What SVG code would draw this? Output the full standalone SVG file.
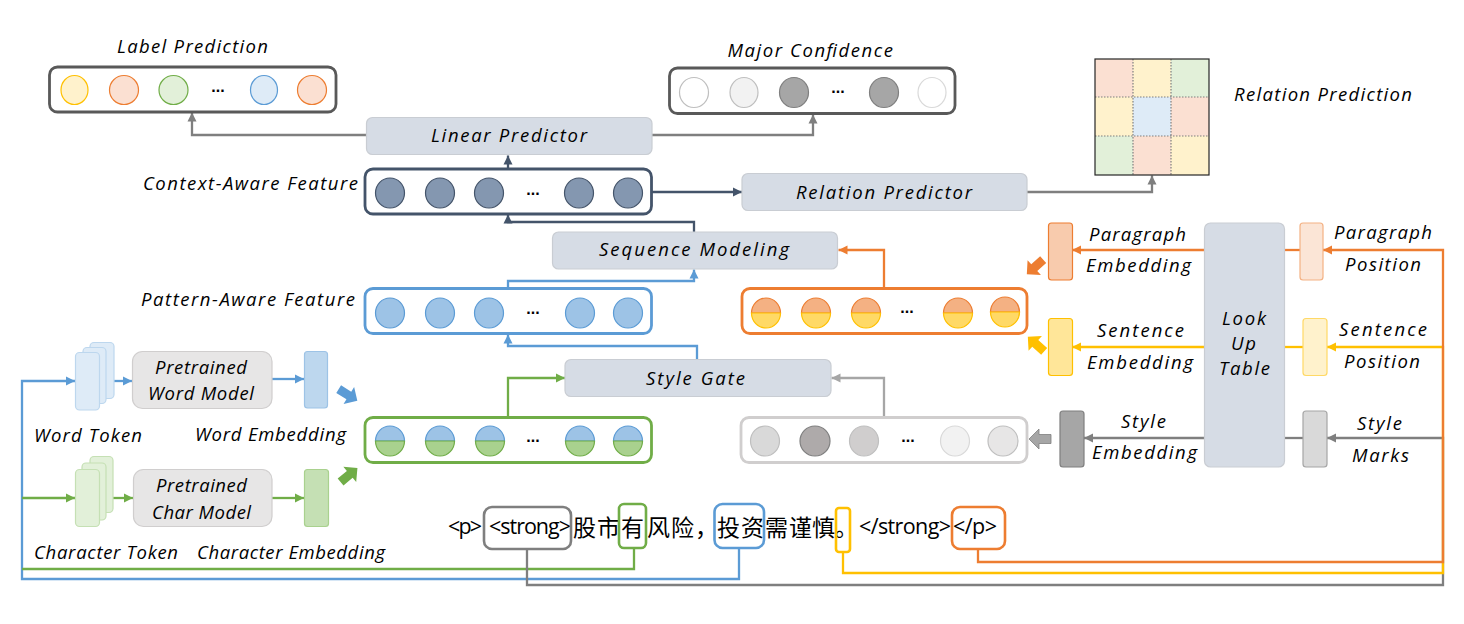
<svg xmlns="http://www.w3.org/2000/svg" width="1464" height="624" viewBox="0 0 1464 624">
<style>
text{font-family:"Open Sans","Noto Sans",sans-serif;fill:#000}
.l{font-size:18.5px;font-style:italic}
.t{font-size:21.5px}
.z{font-family:"Noto Sans CJK SC",sans-serif;font-size:23px}
.d{font-family:"Liberation Sans",sans-serif;font-size:16px;font-weight:bold;text-anchor:middle}
.box{fill:#fff;stroke-width:2.8}
.p{fill:#D6DCE5;stroke:#C9CDD3;stroke-width:1.2}
.m{fill:#E7E6E6;stroke:#D0CECE;stroke-width:1.2}
.c{fill:none;stroke-width:2.3}
.tb{fill:none;stroke-width:2.6}
.g1{stroke:#7F7F7F}.nv{stroke:#44546A}.bl{stroke:#5B9BD5}.gr{stroke:#70AD47}.or{stroke:#ED7D31}.ye{stroke:#FFC000}.lg{stroke:#A6A6A6}
</style>
<defs>
<marker id="a7" markerUnits="userSpaceOnUse" markerWidth="10" markerHeight="10" refX="9" refY="5" orient="auto"><path d="M0,.5L9,5L0,9.500Z" fill="#7F7F7F"/></marker>
<marker id="an" markerUnits="userSpaceOnUse" markerWidth="10" markerHeight="10" refX="9" refY="5" orient="auto"><path d="M0,.5L9,5L0,9.500Z" fill="#44546A"/></marker>
<marker id="ab" markerUnits="userSpaceOnUse" markerWidth="10" markerHeight="10" refX="9" refY="5" orient="auto"><path d="M0,.5L9,5L0,9.500Z" fill="#5B9BD5"/></marker>
<marker id="ag" markerUnits="userSpaceOnUse" markerWidth="10" markerHeight="10" refX="9" refY="5" orient="auto"><path d="M0,.5L9,5L0,9.500Z" fill="#70AD47"/></marker>
<marker id="ao" markerUnits="userSpaceOnUse" markerWidth="10" markerHeight="10" refX="9" refY="5" orient="auto"><path d="M0,.5L9,5L0,9.500Z" fill="#ED7D31"/></marker>
<marker id="ay" markerUnits="userSpaceOnUse" markerWidth="10" markerHeight="10" refX="9" refY="5" orient="auto"><path d="M0,.5L9,5L0,9.500Z" fill="#FFC000"/></marker>
<marker id="al" markerUnits="userSpaceOnUse" markerWidth="10" markerHeight="10" refX="9" refY="5" orient="auto"><path d="M0,.5L9,5L0,9.500Z" fill="#A6A6A6"/></marker>
<path id="big" d="M-11,-4.500H1V-10L11,0L1,10V4.500H-11Z"/>
<g id="bgc"><path d="M-14.500,0A14.500,15 0 0 1 14.500,0Z" fill="#9DC3E6" stroke="#5B9BD5" stroke-width="1.200"/><path d="M-14.500,0A14.500,15 0 0 0 14.500,0Z" fill="#A9D18E" stroke="#70AD47" stroke-width="1.200"/></g>
<g id="oyc"><path d="M-14.500,0A14.500,15 0 0 1 14.500,0Z" fill="#F4B183" stroke="#ED7D31" stroke-width="1.200"/><path d="M-14.500,0A14.500,15 0 0 0 14.500,0Z" fill="#FFD966" stroke="#FFC000" stroke-width="1.200"/></g>
<ellipse id="blc" rx="14.500" ry="15" fill="#9DC3E6" stroke="#5B9BD5" stroke-width="1.200"/>
<ellipse id="nvc" rx="14.500" ry="15" fill="#8497B0" stroke="#44546A" stroke-width="1.200"/>
</defs>
<rect width="1464" height="624" fill="#fff"/>

<g id="connectors">
<path class="c g1" d="M366,135H192V112.500" marker-end="url(#a7)"/>
<path class="c g1" d="M652,135H813V114.500" marker-end="url(#a7)"/>
<path class="c nv" d="M508,168V155.500" marker-end="url(#an)"/>
<path class="c nv" d="M652,192H742" marker-end="url(#an)"/>
<path class="c g1" d="M1027,192H1152V175.500" marker-end="url(#a7)"/>
<path class="c nv" d="M694,232V222H508V214.500" marker-end="url(#an)"/>
<path class="c bl" d="M508,288V281H694V269.500" marker-end="url(#ab)"/>
<path class="c or" d="M884,288V250H838.500" marker-end="url(#ao)"/>
<path class="c bl" d="M697,359V346H508V334.500" marker-end="url(#ab)"/>
<path class="c gr" d="M508,417V378H565" marker-end="url(#ag)"/>
<path class="c lg" d="M884,417V378H831.500" marker-end="url(#al)"/>
<path class="c bl" d="M739,549V579H22V381H75" marker-end="url(#ab)"/>
<path class="c gr" d="M634,549V569H22"/>
<path class="c gr" d="M22,498H75" marker-end="url(#ag)"/>
<path class="c bl" d="M114,381H132" marker-end="url(#ab)"/>
<path class="c bl" d="M272,379H304" marker-end="url(#ab)"/>
<path class="c gr" d="M113,498H133" marker-end="url(#ag)"/>
<path class="c gr" d="M272,498H304" marker-end="url(#ag)"/>
<path class="c g1" d="M527,549V585H1443V438H1327" marker-end="url(#a7)"/>
<path class="c ye" d="M843,552V573H1443V347H1327" marker-end="url(#ay)"/>
<path class="c or" d="M978,549V562H1443V250H1323" marker-end="url(#ao)"/>
<path class="c or" d="M1284,250H1300"/>
<path class="c ye" d="M1284,347H1303"/>
<path class="c g1" d="M1284,438H1303"/>
<path class="c or" d="M1204,250H1072" marker-end="url(#ao)"/>
<path class="c ye" d="M1204,347H1072" marker-end="url(#ay)"/>
<path class="c g1" d="M1204,438H1084" marker-end="url(#a7)"/>
<use href="#big" transform="translate(348,395) rotate(32)" fill="#5B9BD5"/>
<use href="#big" transform="translate(349,475) rotate(-40)" fill="#70AD47"/>
<use href="#big" transform="translate(1035,267) rotate(138)" fill="#ED7D31"/>
<use href="#big" transform="translate(1036,344) rotate(-138)" fill="#FFC000"/>
<use href="#big" transform="translate(1040,439) rotate(180)" fill="#A6A6A6" stroke="#7F7F7F" stroke-width=".8"/>
</g>

<g id="label-prediction">
<text class="l" x="117" y="53" textLength="151">Label Prediction</text>
<rect class="box" x="49.500" y="67" width="286.500" height="45" rx="8" stroke="#595959"/>
<ellipse cx="74.500" cy="90" rx="13.500" ry="14.500" fill="#FFF2CC" stroke="#FFC000" stroke-width="1.200"/>
<ellipse cx="124" cy="90" rx="14.500" ry="14.500" fill="#FBE0D2" stroke="#ED7D31" stroke-width="1.200"/>
<ellipse cx="173.500" cy="90" rx="14.500" ry="14.500" fill="#E2F0D9" stroke="#70AD47" stroke-width="1.200"/>
<text class="d" x="218" y="92">...</text>
<ellipse cx="264" cy="90" rx="13.500" ry="14.500" fill="#DEEBF7" stroke="#5B9BD5" stroke-width="1.200"/>
<ellipse cx="312" cy="90" rx="14.500" ry="14.500" fill="#FBE0D2" stroke="#ED7D31" stroke-width="1.200"/>
</g>

<g id="major-confidence">
<text class="l" x="727.500" y="57" textLength="165.500">Major Confidence</text>
<rect class="box" x="669.500" y="68" width="285.500" height="45.500" rx="8" stroke="#595959"/>
<ellipse cx="694" cy="92.500" rx="14.500" ry="15" fill="#fff" stroke="#BFBFBF" stroke-width="1.200"/>
<ellipse cx="744" cy="92.500" rx="14" ry="15" fill="#F2F2F2" stroke="#BFBFBF" stroke-width="1.200"/>
<ellipse cx="794" cy="92.500" rx="14.500" ry="15" fill="#A6A6A6" stroke="#7F7F7F" stroke-width="1.200"/>
<text class="d" x="838" y="93">...</text>
<ellipse cx="884" cy="92.500" rx="14.500" ry="15" fill="#A6A6A6" stroke="#7F7F7F" stroke-width="1.200"/>
<ellipse cx="932" cy="92.500" rx="14" ry="15" fill="#fff" stroke="#D9D9D9" stroke-width="1.200"/>
</g>

<g id="relation-prediction">
<rect x="1095" y="59" width="38" height="38" fill="#FBE0D2"/><rect x="1133" y="59" width="38" height="38" fill="#FFF2CC"/><rect x="1171" y="59" width="38" height="38" fill="#E2F0D9"/>
<rect x="1095" y="97" width="38" height="39" fill="#FFF2CC"/><rect x="1133" y="97" width="38" height="39" fill="#DEEBF7"/><rect x="1171" y="97" width="38" height="39" fill="#FBE0D2"/>
<rect x="1095" y="136" width="38" height="39" fill="#E2F0D9"/><rect x="1133" y="136" width="38" height="39" fill="#FBE0D2"/><rect x="1171" y="136" width="38" height="39" fill="#FFF2CC"/>
<path d="M1133,59V175M1171,59V175M1095,97H1209M1095,136H1209" fill="none" stroke="#7F7F7F" stroke-width="1.200" stroke-dasharray="1.500 1.500"/>
<rect x="1095" y="59" width="114" height="116" fill="none" stroke="#262626" stroke-width="1.200"/>
<text class="l" x="1234" y="101" textLength="178">Relation Prediction</text>
</g>

<g id="linear-predictor">
<rect class="p" x="366.500" y="117.500" width="285.500" height="37" rx="6"/>
<text class="l" x="431" y="142" textLength="156">Linear Predictor</text>
</g>

<g id="context-aware-feature">
<text class="l" x="143" y="190" textLength="215">Context-Aware Feature</text>
<rect class="box" x="365" y="169" width="286.500" height="45" rx="8" stroke="#44546A"/>
<use href="#nvc" x="390" y="193"/><use href="#nvc" x="440" y="193"/><use href="#nvc" x="489" y="193"/>
<text class="d" x="533" y="195">...</text>
<use href="#nvc" x="579" y="193"/><use href="#nvc" x="628" y="193"/>
</g>

<g id="relation-predictor">
<rect class="p" x="742" y="173.500" width="285" height="37" rx="6"/>
<text class="l" x="796" y="199" textLength="176">Relation Predictor</text>
</g>

<g id="sequence-modeling">
<rect class="p" x="552.500" y="232" width="285" height="37" rx="6"/>
<text class="l" x="599" y="256" textLength="190">Sequence Modeling</text>
</g>

<g id="pattern-aware-feature">
<text class="l" x="141" y="306" textLength="214">Pattern-Aware Feature</text>
<rect class="box" x="365" y="288.500" width="286.500" height="45" rx="8" stroke="#5B9BD5"/>
<use href="#blc" x="390" y="313"/><use href="#blc" x="440" y="313"/><use href="#blc" x="489" y="313"/>
<text class="d" x="533" y="314">...</text>
<use href="#blc" x="580" y="313"/><use href="#blc" x="628" y="313"/>
</g>

<g id="fused-position-feature">
<rect class="box" x="742" y="288.500" width="285" height="45" rx="8" stroke="#ED7D31"/>
<use href="#oyc" x="766" y="313"/><use href="#oyc" x="816" y="313"/><use href="#oyc" x="866" y="313"/>
<text class="d" x="907" y="313">...</text>
<use href="#oyc" x="958" y="313"/><use href="#oyc" x="1005" y="312"/>
</g>

<g id="style-gate">
<rect class="p" x="565" y="359.500" width="266" height="37" rx="6"/>
<text class="l" x="646" y="385" textLength="99">Style Gate</text>
</g>

<g id="fused-token-feature">
<rect class="box" x="365" y="417.500" width="286.500" height="45" rx="8" stroke="#70AD47"/>
<use href="#bgc" x="390" y="441"/><use href="#bgc" x="440" y="441"/><use href="#bgc" x="490" y="441"/>
<text class="d" x="533" y="442">...</text>
<use href="#bgc" x="580" y="441"/><use href="#bgc" x="628" y="441"/>
</g>

<g id="style-feature">
<rect class="box" x="741" y="417.500" width="286" height="45" rx="8" stroke="#D0CECE"/>
<ellipse cx="765" cy="441" rx="14.500" ry="15" fill="#D9D9D9" stroke="#BFBFBF" stroke-width="1.200"/>
<ellipse cx="815" cy="441" rx="15" ry="15" fill="#AEAAAA" stroke="#7F7F7F" stroke-width="1.200"/>
<ellipse cx="864" cy="441" rx="14.500" ry="15" fill="#D0CECE" stroke="#BFBFBF" stroke-width="1.200"/>
<text class="d" x="908" y="442">...</text>
<ellipse cx="955" cy="441" rx="14.500" ry="15" fill="#F2F2F2" stroke="#D9D9D9" stroke-width="1.200"/>
<ellipse cx="1003" cy="441" rx="15" ry="15" fill="#E7E6E6" stroke="#BFBFBF" stroke-width="1.200"/>
</g>

<g id="word-token">
<rect x="90" y="342.500" width="24" height="56" rx="4" fill="#DEEBF7" stroke="#BDD7EE" stroke-width="1.200"/>
<rect x="83" y="347.500" width="23" height="56" rx="4" fill="#DEEBF7" stroke="#BDD7EE" stroke-width="1.200"/>
<rect x="75.500" y="352.500" width="24" height="57.500" rx="4" fill="#DEEBF7" stroke="#BDD7EE" stroke-width="1.200"/>
<text class="l" x="34" y="442" textLength="108">Word Token</text>
</g>

<g id="word-model">
<rect class="m" x="132.500" y="351.500" width="139.500" height="57" rx="10"/>
<text class="l" x="155" y="374" textLength="92">Pretrained</text>
<text class="l" x="148" y="400" textLength="106">Word Model</text>
</g>

<g id="word-embedding">
<rect x="304.500" y="351.500" width="23" height="56.500" rx="3" fill="#BDD7EE" stroke="#9DC3E6" stroke-width="1.200"/>
<text class="l" x="195" y="441" textLength="151">Word Embedding</text>
</g>

<g id="character-token">
<rect x="90" y="456.500" width="23" height="56" rx="4" fill="#E2F0D9" stroke="#C5E0B4" stroke-width="1.200"/>
<rect x="82" y="463" width="24" height="57" rx="4" fill="#E2F0D9" stroke="#C5E0B4" stroke-width="1.200"/>
<rect x="75.500" y="469.500" width="24" height="57" rx="4" fill="#E2F0D9" stroke="#C5E0B4" stroke-width="1.200"/>
<text class="l" x="34" y="559" textLength="144">Character Token</text>
</g>

<g id="char-model">
<rect class="m" x="133.500" y="469.500" width="138.500" height="57" rx="10"/>
<text class="l" x="156" y="492" textLength="91">Pretrained</text>
<text class="l" x="152" y="519" textLength="99">Char Model</text>
</g>

<g id="character-embedding">
<rect x="304.500" y="469.500" width="24" height="57" rx="3" fill="#C5E0B4" stroke="#A9D18E" stroke-width="1.200"/>
<text class="l" x="197" y="559" textLength="188">Character Embedding</text>
</g>

<g id="paragraph-embedding">
<rect x="1048.500" y="223" width="24" height="57" rx="3" fill="#F8CBAD" stroke="#ED7D31" stroke-width="1.200"/>
<text class="l" x="1089" y="241" textLength="97">Paragraph</text>
<text class="l" x="1086" y="272" textLength="105">Embedding</text>
</g>

<g id="sentence-embedding">
<rect x="1048.500" y="318.500" width="24" height="57" rx="3" fill="#FFE699" stroke="#FFC000" stroke-width="1.200"/>
<text class="l" x="1097" y="337" textLength="87">Sentence</text>
<text class="l" x="1087" y="369" textLength="106">Embedding</text>
</g>

<g id="style-embedding">
<rect x="1060" y="411" width="24" height="56" rx="3" fill="#A6A6A6" stroke="#7F7F7F" stroke-width="1.200"/>
<text class="l" x="1121" y="428" textLength="45">Style</text>
<text class="l" x="1092" y="459" textLength="105">Embedding</text>
</g>

<g id="look-up-table">
<rect class="p" x="1204.500" y="223" width="80" height="244" rx="6"/>
<text class="l" x="1222" y="325" textLength="44">Look</text>
<text class="l" x="1231" y="350" textLength="25">Up</text>
<text class="l" x="1219" y="375" textLength="51">Table</text>
</g>

<g id="paragraph-position">
<rect x="1300" y="223" width="23" height="57" rx="3" fill="#FBE5D6" stroke="#F4B183" stroke-width="1.200"/>
<text class="l" x="1334" y="239" textLength="98">Paragraph</text>
<text class="l" x="1345" y="271" textLength="76">Position</text>
</g>

<g id="sentence-position">
<rect x="1303" y="318.500" width="24" height="57" rx="3" fill="#FFF2CC" stroke="#FFD966" stroke-width="1.200"/>
<text class="l" x="1339" y="336" textLength="88">Sentence</text>
<text class="l" x="1344" y="368" textLength="76">Position</text>
</g>

<g id="style-marks">
<rect x="1303" y="411" width="24" height="56" rx="3" fill="#D9D9D9" stroke="#A6A6A6" stroke-width="1.200"/>
<text class="l" x="1357" y="430" textLength="45">Style</text>
<text class="l" x="1352" y="462" textLength="57">Marks</text>
</g>

<g id="source-text">
<text class="t" x="448" y="534" textLength="34">&lt;p&gt;</text>
<text class="t" x="489" y="534" textLength="82">&lt;strong&gt;</text>
<text class="z" x="573 597 621 647 671 695 717 741 765 789 812 835" y="536">股市有风险，投资需谨慎。</text>
<text class="t" x="859" y="534" textLength="92">&lt;/strong&gt;</text>
<text class="t" x="953" y="534" textLength="44">&lt;/p&gt;</text>
<rect class="tb g1" x="484" y="507" width="87" height="42" rx="8"/>
<rect class="tb gr" x="619" y="504" width="27" height="44" rx="5"/>
<rect class="tb bl" x="714.500" y="504" width="49.500" height="44" rx="8"/>
<rect class="tb ye" x="836" y="508" width="14" height="44" rx="3"/>
<rect class="tb or" x="952" y="507" width="53" height="42" rx="8"/>
</g>
</svg>
